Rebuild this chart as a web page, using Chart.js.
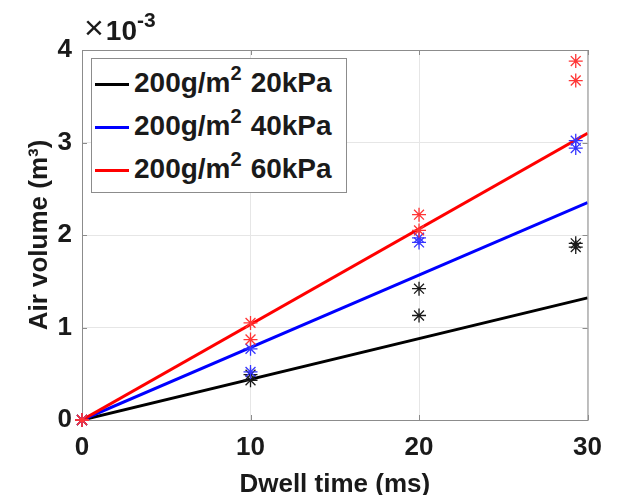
<!DOCTYPE html>
<html>
<head>
<meta charset="utf-8">
<script src="https://cdn.jsdelivr.net/npm/chart.js@4.4.0/dist/chart.umd.min.js"></script>
<style>
  body { margin: 0; background: #fff; }
  #wrap { position: relative; width: 617px; height: 495px; font-family: "Liberation Sans", Arial, sans-serif; color: #1a1a1a; }
  #legend { position: absolute; left: 91px; top: 58px; width: 254px; height: 133px; border: 1px solid #8c8c8c; background: #fff; }
  .row { position: absolute; left: 0; height: 43px; line-height: 43px; font-size: 28px; font-weight: bold; white-space: nowrap; }
  .swatch { display: inline-block; width: 34px; height: 3px; margin-left: 3px; margin-right: 5px; vertical-align: middle; }
  .row sup { font-size: 20px; line-height: 0; vertical-align: 12px; margin-right: 9px; }
  #exp { position: absolute; left: 84px; top: 15px; font-size: 28px; line-height: 32px; white-space: nowrap; }
  #exp .times { font-weight: normal; font-size: 34px; line-height: 0; margin-right: 2px; vertical-align: 1px; }
  #exp b { font-size: 28px; }
  #exp sup { font-size: 21px; vertical-align: 13px; line-height: 0; }
</style>
</head>
<body>
<div id="wrap">
  <canvas id="chart" width="617" height="495"></canvas>
  <div id="exp"><span class="times">&times;</span><b>10<sup>-3</sup></b></div>
  <div id="legend"></div>
</div>
<script>
// measured points (volume in units of 10^-3 m^3)
const dwellTime = [0, 0, 10, 10, 20, 20, 29.3, 29.3];
const vol20kPa = [0, 0, 0.43, 0.49, 1.42, 1.13, 1.91, 1.87];
const vol40kPa = [0, 0, 0.77, 0.52, 1.97, 1.92, 3.02, 2.94];
const vol60kPa = [0, 0, 1.05, 0.87, 2.22, 2.05, 3.88, 3.67];

// linear fits through the origin
const fitTime = [0, 30];
const fit20kPa = [0, 1.32];
const fit40kPa = [0, 2.35];
const fit60kPa = [0, 3.10];

const pressures = ['20kPa', '40kPa', '60kPa'];
const basisWeight = '200g/m';
const xTicks = [0, 10, 20, 30];
const yTicks = [0, 1, 2, 3, 4];

const lineColors = ['#000000', '#0000ff', '#ff0000'];
const starColors = ['#1a1a1a', '#3535ff', '#ff3535'];

const toPoints = (xs, ys) => xs.map((x, i) => ({ x: x, y: ys[i] }));

const fits = [fit20kPa, fit40kPa, fit60kPa];
const measured = [vol20kPa, vol40kPa, vol60kPa];

const datasets = [];
measured.forEach((vals, i) => {
    datasets.push({
        data: toPoints(dwellTime, vals),
        showLine: false,
        pointStyle: 'star',
        pointRadius: 7,
        borderWidth: 1.3,
        borderColor: starColors[i],
        backgroundColor: starColors[i],
        clip: false,
        order: 2 - i
    });
});
fits.forEach((vals, i) => {
    datasets.push({
        data: toPoints(fitTime, vals),
        showLine: true,
        borderColor: lineColors[i],
        borderWidth: 3,
        pointRadius: 0,
        order: 5 - i
    });
});

// box around the plot with inward tick marks
const frame = {
    id: 'frame',
    beforeDatasetsDraw(chart) {
        const { ctx, chartArea: a, scales } = chart;
        ctx.save();
        ctx.strokeStyle = '#8c8c8c';
        ctx.lineWidth = 1;
        ctx.strokeRect(a.left + 0.5, a.top + 0.5, a.right - a.left, a.bottom - a.top);
        ctx.beginPath();
        xTicks.forEach(v => {
            const px = Math.round(scales.x.getPixelForValue(v)) + 0.5;
            ctx.moveTo(px, a.bottom); ctx.lineTo(px, a.bottom - 5);
            ctx.moveTo(px, a.top); ctx.lineTo(px, a.top + 5);
        });
        yTicks.forEach(v => {
            const py = Math.round(scales.y.getPixelForValue(v)) + 0.5;
            ctx.moveTo(a.left, py); ctx.lineTo(a.left + 5, py);
            ctx.moveTo(a.right, py); ctx.lineTo(a.right - 5, py);
        });
        ctx.stroke();
        ctx.restore();
    }
};

const fontFamily = '"Liberation Sans", Arial, sans-serif';
const tickFont = { family: fontFamily, size: 26, weight: 'bold', lineHeight: 1 };

new Chart(document.getElementById('chart'), {
    type: 'scatter',
    data: { datasets: datasets },
    options: {
        responsive: false,
        animation: false,
        layout: { padding: { top: 50, right: 29, left: 0, bottom: 0 } },
        plugins: { legend: { display: false }, tooltip: { enabled: false } },
        scales: {
            x: {
                type: 'linear', min: 0, max: 30,
                afterBuildTicks: s => { s.ticks = xTicks.map(v => ({ value: v })); },
                ticks: { padding: 15, color: '#1a1a1a', font: tickFont },
                grid: { color: '#e6e6e6', drawTicks: false },
                border: { display: false },
                title: { display: true, text: 'Dwell time (ms)', color: '#1a1a1a', padding: 0,
                         font: { family: fontFamily, size: 26, weight: 'bold', lineHeight: 0.75 } },
                afterFit: s => { s.height = 75; }
            },
            y: {
                type: 'linear', min: 0, max: 4,
                afterBuildTicks: s => { s.ticks = yTicks.map(v => ({ value: v })); },
                ticks: { padding: 10, color: '#1a1a1a', font: tickFont },
                grid: { color: '#e6e6e6', drawTicks: false },
                border: { display: false },
                title: { display: true, text: 'Air volume (m\u00B3)', color: '#1a1a1a', padding: { top: 27, bottom: 0 },
                         font: { family: fontFamily, size: 26, weight: 'bold', lineHeight: 1 } },
                afterFit: s => { s.width = 82; }
            }
        }
    },
    plugins: [frame]
});

// legend, with a real superscript for m^2
const legend = document.getElementById('legend');
pressures.forEach((p, i) => {
    const row = document.createElement('div');
    row.className = 'row';
    row.style.top = (2 + 43 * i) + 'px';
    row.innerHTML = `<span class="swatch" style="background:${lineColors[i]}"></span>${basisWeight}<sup>2</sup>${p}`;
    legend.appendChild(row);
});
</script>
</body>
</html>
